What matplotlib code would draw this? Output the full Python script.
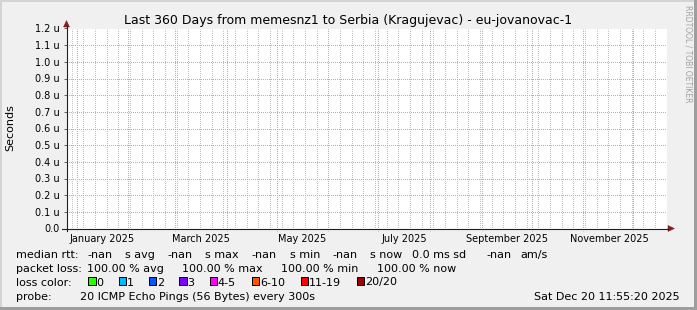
import numpy as np
import pandas as pd
import matplotlib
matplotlib.use("Agg")
import matplotlib.pyplot as plt
from matplotlib.patches import Rectangle, Polygon
from matplotlib.lines import Line2D

W, H = 697, 310

# ---- data ----
title = "Last 360 Days from memesnz1 to Serbia (Kragujevac) - eu-jovanovac-1"
window_start = pd.Timestamp("2024-12-26 00:00")
window_end = pd.Timestamp("2025-12-21 00:00")
month_labels = ["January 2025", "March 2025", "May 2025", "July 2025",
                "September 2025", "November 2025"]
y_ticks_us = [0.0, 0.1, 0.2, 0.3, 0.4, 0.5, 0.6, 0.7, 0.8, 0.9, 1.0, 1.1, 1.2]
y_tick_labels = ["0.0", "0.1 u", "0.2 u", "0.3 u", "0.4 u", "0.5 u", "0.6 u",
                 "0.7 u", "0.8 u", "0.9 u", "1.0 u", "1.1 u", "1.2 u"]
median_rtt_times = []   # every probe was lost, nothing to draw
median_rtt_values = []
rtt_values = ["-nan", "-nan", "-nan", "-nan"]
rtt_units = ["s avg", "s max", "s min", "s now"]
rtt_sd = "0.0 ms sd"
rtt_amps = "-nan"
loss_values = [100.00, 100.00, 100.00, 100.00]
loss_names = ["avg", "max", "min", "now"]
loss_labels = ["0", "1", "2", "3", "4-5", "6-10", "11-19", "20/20"]
loss_colors = ["#26ff00", "#00b8ff", "#0059ff", "#7e00ff",
               "#ff00ff", "#ff5500", "#ff0000", "#a10000"]
probe_text = "20 ICMP Echo Pings (56 Bytes) every 300s"
stamp = "Sat Dec 20 11:55:20 2025"

# rrdtool-ish colours
BACK = "#f0f0f0"
MGRID = "#ee9999"
GRID = "#c0c0c0"
AXIS = "#1f1f1f"
ARROW = "#7f1f1f"
DOT = (0.5, (1, 1))

plt.rcParams["font.family"] = "DejaVu Sans"


def fx(x):
    return x / W


def fy(y):
    return 1 - y / H


fig = plt.figure(figsize=(W / 100, H / 100), dpi=100, facecolor=BACK)

# plot area (pixels: x 66.5..666.5, y 28.5..228.5)
ax = fig.add_axes([fx(66.5), fy(228.5), 600 / W, 200 / H])
ax.set_facecolor("white")
for s in ax.spines.values():
    s.set_visible(False)

ax.plot(median_rtt_times, median_rtt_values, color="#00aa00")

ax.set_xlim(window_start, window_end)
ax.set_ylim(0, 1.2e-6)

# x: weekly lines (sundays), month lines, labels mid-month
sundays = pd.date_range(window_start, window_end, freq="W-SUN")
ax.set_xticks(sundays, minor=True)
ax.grid(which="minor", axis="x", color=GRID, linestyle=DOT, linewidth=0.72)
ax.tick_params(axis="x", which="minor", length=0)

month_starts = pd.date_range("2025-01-01", window_end, freq="MS")
for m in month_starts:
    ax.axvline(m, ymin=-0.012, ymax=1, color=MGRID, linestyle=DOT,
               linewidth=0.72, clip_on=False, zorder=1.5)

# y grid / labels (drawn above the weekly lines)
ax.set_yticks([v * 1e-6 for v in y_ticks_us])
ax.set_yticklabels(y_tick_labels)
ax.tick_params(axis="y", which="major", length=2.2, width=0.72, color="#666666",
               pad=2.5, labelsize=7)
for v in y_ticks_us[1:]:
    ax.axhline(v * 1e-6, color=MGRID, linestyle=DOT, linewidth=0.72, zorder=1.5)

label_pos = [pd.Timestamp(l) + pd.Timedelta(days=15.5) for l in month_labels]
ax.set_xticks(label_pos)
ax.set_xticklabels(month_labels)
ax.tick_params(axis="x", which="major", length=0, pad=4.0, labelsize=7)
ax.set_axisbelow(True)

# axis lines + arrows
fig.add_artist(Line2D([fx(61.5), fx(668)], [fy(228.5), fy(228.5)],
                      color=AXIS, linewidth=0.8))
fig.add_artist(Line2D([fx(66.5), fx(66.5)], [fy(230.5), fy(26)],
                      color=AXIS, linewidth=0.8))
fig.add_artist(Polygon([[fx(668), fy(225.5)], [fx(674.5), fy(228.5)], [fx(668), fy(231.5)]],
                       closed=True, facecolor=ARROW, edgecolor=ARROW, linewidth=0.3))
fig.add_artist(Polygon([[fx(63.5), fy(27)], [fx(66.5), fy(20.5)], [fx(69.5), fy(27)]],
                       closed=True, facecolor=ARROW, edgecolor=ARROW, linewidth=0.3))

# frame shading
fig.add_artist(Rectangle((0, 0), fx(2), 1, facecolor="#d4d4d4", edgecolor="none"))
fig.add_artist(Rectangle((0, fy(2)), 1, 2 / H, facecolor="#d4d4d4", edgecolor="none"))
fig.add_artist(Rectangle((fx(694), 0), 3 / W, 1, facecolor="#9e9e9e", edgecolor="none"))
fig.add_artist(Rectangle((0, 0), 1, 3 / H, facecolor="#9e9e9e", edgecolor="none"))

# texts
fig.text(fx(348.5), fy(24), title, ha="center", va="baseline", fontsize=9)
fig.text(fx(10), fy(128), "Seconds", rotation=90, ha="center", va="center", fontsize=8)
fig.text(fx(688), fy(5), "RRDTOOL / TOBI OETIKER", rotation=270, ha="center",
         va="top", fontsize=5.5, color="#a0a0a0")

FS = 8
rows = [258, 272, 285.5, 299.5]
fig.text(fx(16), fy(rows[0]), "median rtt:", va="baseline", fontsize=FS)
for x, v, u in zip([87.3, 167.3, 251.7, 332.3], rtt_values, rtt_units):
    fig.text(fx(x), fy(rows[0]), v, va="baseline", fontsize=FS)
    fig.text(fx(x + 38), fy(rows[0]), u, va="baseline", fontsize=FS)
fig.text(fx(412), fy(rows[0]), rtt_sd, va="baseline", fontsize=FS)
fig.text(fx(486), fy(rows[0]), rtt_amps, va="baseline", fontsize=FS)
fig.text(fx(520), fy(rows[0]), "am/s", va="baseline", fontsize=FS)

fig.text(fx(16), fy(rows[1]), "packet loss:", va="baseline", fontsize=FS)
for x, v, n in zip([87.3, 182.3, 281.3, 376.7], loss_values, loss_names):
    fig.text(fx(x), fy(rows[1]), f"{v:.2f} % {n}", va="baseline", fontsize=FS)

fig.text(fx(16), fy(rows[2]), "loss color:", va="baseline", fontsize=FS)
renderer = fig.canvas.get_renderer()
x = 88.3
for lab, col in zip(loss_labels, loss_colors):
    fig.add_artist(Rectangle((fx(x), fy(rows[2] - 1)), 7.5 / W, 7.5 / H,
                             facecolor=col, edgecolor="black", linewidth=0.72))
    t = fig.text(fx(x + 8.3), fy(rows[2]), lab, va="baseline", fontsize=FS)
    x = x + 8.3 + t.get_window_extent(renderer).width + 15 + 0.6 * lab.count("-")

fig.text(fx(16), fy(rows[3]), "probe:", va="baseline", fontsize=FS)
fig.text(fx(80), fy(rows[3]), probe_text, va="baseline", fontsize=FS)
fig.text(fx(680), fy(rows[3]), stamp, ha="right", va="baseline", fontsize=FS)

fig.savefig("out.png", dpi=100, facecolor=BACK)
